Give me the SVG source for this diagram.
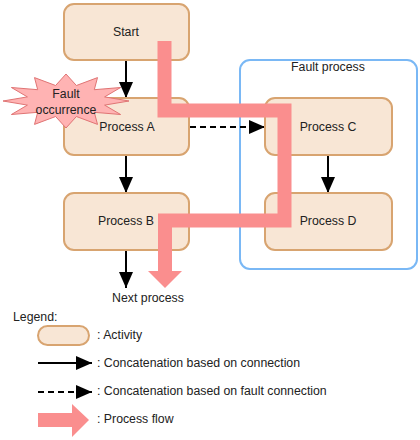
<svg xmlns="http://www.w3.org/2000/svg" width="420" height="440" viewBox="0 0 420 440">
<defs>
<style>
.act{fill:#f8e6d5;stroke:#d8a470;stroke-width:2}
.lbl{font-family:"Liberation Sans",Arial,sans-serif;font-size:12.3px;fill:#222}
.c{text-anchor:middle;dominant-baseline:central}
.l{dominant-baseline:central}
.con{stroke:#000;stroke-width:2;fill:none}
.dash{stroke-dasharray:6,4}
.flow{stroke:#fa8e8e;stroke-width:14;fill:none;stroke-linejoin:miter}
</style>
<marker id="ah2" viewBox="0 0 16 16" refX="16" refY="8" markerWidth="16" markerHeight="16" orient="auto" markerUnits="userSpaceOnUse">
<path d="M0,1 L16,8 L0,15 Z" fill="#000"/>
</marker>
</defs>
<rect width="420" height="440" fill="#fff"/>
<g id="fault-process-group">
<rect x="240" y="60" width="177" height="209" rx="10" fill="none" stroke="#7ab8f5" stroke-width="2"/>
<text class="lbl c" x="328" y="67">Fault process</text>
</g>
<g id="connectors">
<line class="con" x1="126" y1="60" x2="126" y2="98" marker-end="url(#ah2)"/>
<line class="con" x1="126" y1="155" x2="126" y2="193" marker-end="url(#ah2)"/>
<line class="con" x1="126" y1="250" x2="126" y2="288" marker-end="url(#ah2)"/>
<line class="con" x1="328" y1="155" x2="328" y2="193" marker-end="url(#ah2)"/>
<line class="con dash" x1="190" y1="127" x2="265" y2="127" marker-end="url(#ah2)"/>
</g>
<g id="start"><rect class="act" x="64" y="4" width="125" height="56" rx="10"/><text class="lbl c" x="126" y="32">Start</text></g>
<g id="process-a"><rect class="act" x="64" y="98" width="125" height="57" rx="10"/><text class="lbl c" x="127" y="127">Process A</text></g>
<g id="process-b"><rect class="act" x="64" y="193" width="125" height="57" rx="10"/><text class="lbl c" x="126" y="221">Process B</text></g>
<g id="process-c"><rect class="act" x="265" y="98" width="127" height="57" rx="10"/><text class="lbl c" x="328" y="127">Process C</text></g>
<g id="process-d"><rect class="act" x="265" y="193" width="127" height="57" rx="10"/><text class="lbl c" x="328" y="221">Process D</text></g>
<g id="fault-occurrence">
<polygon points="129,101 104.6,105.1 120.6,114.5 94.3,112.3 97.5,124.4 76.4,116.5 66,128 55.6,116.5 34.5,124.4 37.7,112.3 11.4,114.5 27.4,105.1 3,101 27.4,96.9 11.4,87.5 37.7,89.7 34.5,77.6 55.6,85.5 66,74 76.4,85.5 97.5,77.6 94.3,89.7 120.6,87.5 104.6,96.9" fill="#ffb3b3" stroke="#e07474" stroke-width="1"/>
<text class="lbl c" x="66" y="94">Fault</text>
<text class="lbl c" x="66" y="110">occurrence</text>
</g>
<g id="process-flow">
<path class="flow" d="M164.5,41 V110.5 H284.5 V220.5 H165 V271"/>
<polygon points="148,271 182,271 165,288" fill="#fa8e8e"/>
</g>
<g id="next-process"><text class="lbl c" x="148" y="298">Next process</text></g>
<g id="legend">
<text class="lbl l" x="13" y="317">Legend:</text>
<rect class="act" x="38" y="326" width="51" height="19" rx="9.5"/>
<text class="lbl l" x="97" y="335">: Activity</text>
<line class="con" x1="38" y1="363" x2="92" y2="363" marker-end="url(#ah2)"/>
<text class="lbl l" x="97" y="363">: Concatenation based on connection</text>
<line class="con dash" x1="38" y1="392" x2="92" y2="392" marker-end="url(#ah2)"/>
<text class="lbl l" x="97" y="391">: Concatenation based on fault connection</text>
<polygon points="38,413 72,413 72,404 89,420 72,437 72,427 38,427" fill="#fa8e8e"/>
<text class="lbl l" x="97" y="419">: Process flow</text>
</g>
</svg>
